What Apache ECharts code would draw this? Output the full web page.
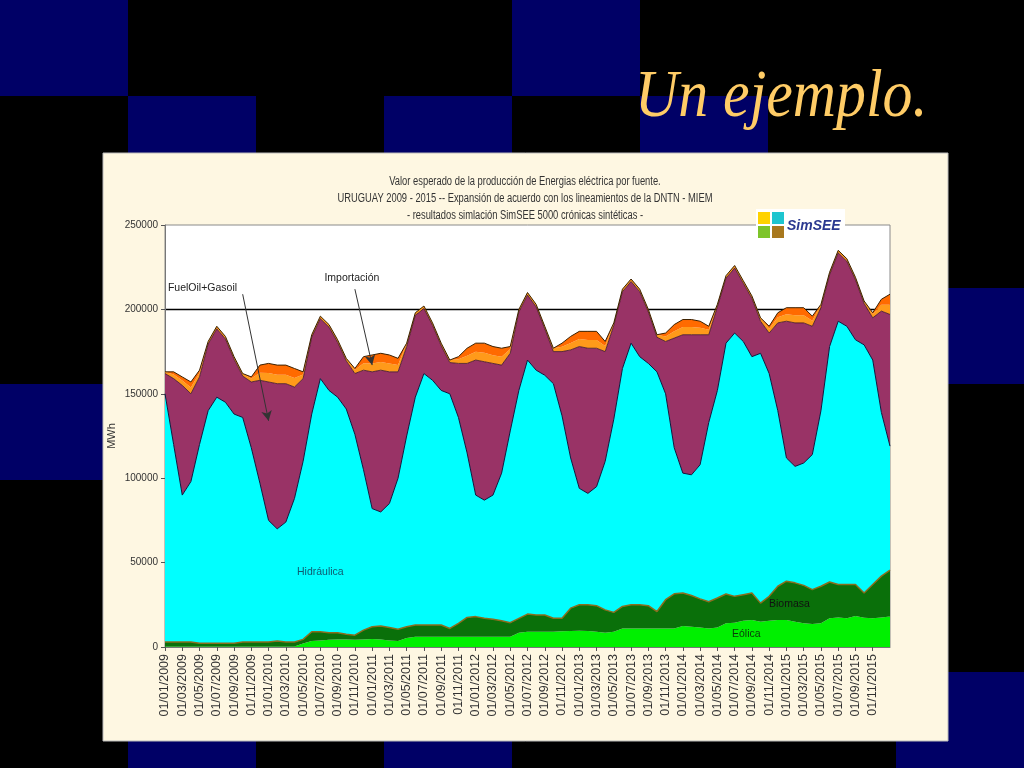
<!DOCTYPE html>
<html>
<head>
<meta charset="utf-8">
<script src="https://cdn.jsdelivr.net/npm/echarts@6/dist/echarts.min.js"></script>
<style>
html,body{margin:0;padding:0;background:#000;}
#chart{width:1024px;height:768px;}
</style>
</head>
<body>
<div id="chart"></div>
<script>
// Monthly categories 01/01/2009 ... 01/01/2016
const categories = [
 '01/01/2009','01/02/2009','01/03/2009','01/04/2009','01/05/2009','01/06/2009','01/07/2009','01/08/2009','01/09/2009','01/10/2009','01/11/2009','01/12/2009',
 '01/01/2010','01/02/2010','01/03/2010','01/04/2010','01/05/2010','01/06/2010','01/07/2010','01/08/2010','01/09/2010','01/10/2010','01/11/2010','01/12/2010',
 '01/01/2011','01/02/2011','01/03/2011','01/04/2011','01/05/2011','01/06/2011','01/07/2011','01/08/2011','01/09/2011','01/10/2011','01/11/2011','01/12/2011',
 '01/01/2012','01/02/2012','01/03/2012','01/04/2012','01/05/2012','01/06/2012','01/07/2012','01/08/2012','01/09/2012','01/10/2012','01/11/2012','01/12/2012',
 '01/01/2013','01/02/2013','01/03/2013','01/04/2013','01/05/2013','01/06/2013','01/07/2013','01/08/2013','01/09/2013','01/10/2013','01/11/2013','01/12/2013',
 '01/01/2014','01/02/2014','01/03/2014','01/04/2014','01/05/2014','01/06/2014','01/07/2014','01/08/2014','01/09/2014','01/10/2014','01/11/2014','01/12/2014',
 '01/01/2015','01/02/2015','01/03/2015','01/04/2015','01/05/2015','01/06/2015','01/07/2015','01/08/2015','01/09/2015','01/10/2015','01/11/2015','01/12/2015',
 '01/01/2016'
];

// MWh per month (stacked, bottom to top)
const eolica = [
 300,300,300,300,300,300,300,300,300,300,300,300,
 300,300,300,300,2000,3500,3800,4300,4500,4500,4300,4500,
 4700,4500,3800,3500,5300,6000,6100,6100,6000,6000,6000,6000,
 6000,6000,6000,6000,6000,8500,9000,9000,9000,9000,9300,9500,
 9700,9500,9000,8500,9000,11000,11000,11000,11000,11000,11000,11000,
 12400,12000,11500,11000,11500,14000,14400,15500,16000,15000,15500,16000,
 16000,15000,14000,13600,14000,17000,17500,17000,18400,17400,17000,17500,
 18000
];
const biomasa = [
 2700,2700,2700,2700,1900,1900,1900,1900,1900,2700,2700,2700,
 2700,3200,2700,2700,2500,5500,5200,4200,4000,3000,2700,5500,
 7300,7900,7700,7000,6700,7000,6900,6900,7000,5000,8000,11500,
 12000,11000,10500,9500,8400,8500,10500,10000,10000,8000,7700,13500,
 15300,15500,15500,13500,11500,13000,14000,14000,13500,10000,17000,20500,
 19600,18500,17000,15800,17500,17400,15600,15500,16000,11000,14500,20000,
 23000,23000,22500,20400,22000,21500,19500,20000,18600,14600,20000,24500,
 27600
];
const hidraulica = [
 147000,117000,87000,95000,117800,137800,145800,142800,135800,133000,115000,94000,
 72000,66500,71000,85000,105500,129000,150000,143500,139500,133500,119000,95000,
 70000,67600,73500,89500,113000,135000,149000,145000,139000,139000,122000,97500,
 72000,70000,73500,87500,113600,135000,150500,145000,142000,139000,120000,89000,
 69000,66000,70500,88000,114500,141000,155000,147000,143500,142000,122000,86500,
 71000,71500,79500,106200,123000,148600,156000,150000,140000,148000,132000,104000,
 73000,69000,72500,80000,104000,139500,156000,153000,145000,147000,133000,97000,
 73400
];
const fuelGasoil = [
 12000,39000,65000,52000,40000,39500,40500,37500,32500,24500,39000,61000,
 82000,86000,82000,66000,49000,45500,35500,37500,32500,28500,36000,59000,
 81000,84000,78000,63000,53000,48500,38500,32500,26500,18500,32000,53000,
 80000,82000,78000,64000,46000,46500,38500,37500,27500,19000,38000,64000,
 84000,86000,82000,65000,55500,45500,36500,38500,30500,20500,31000,65000,
 82000,83000,77000,52000,49500,38500,38500,34500,34500,19000,24000,52000,
 81000,85000,83000,76000,61000,42500,40500,38500,35500,24500,25000,60000,
 78000
];
const otrosTermicos = [
 1000,2500,2900,3700,2500,1500,1500,1500,1500,1500,2100,4500,
 5300,5300,5300,5300,2500,1500,1500,1500,1500,1500,2100,4100,
 4900,4900,4900,4100,2000,1500,1500,1500,1500,1500,2500,4500,
 4900,5300,4900,4900,2500,1500,1500,1500,1500,2000,2900,4100,
 4500,4900,4900,3300,1500,1500,1500,1500,1500,1500,2900,4100,
 4500,4500,4100,2900,1500,1500,1500,1500,1500,2000,2500,3300,
 4100,4500,4500,3300,2000,1500,1500,1500,1500,1500,2100,3700,
 5700
];
const importacion = [
 0,1500,2100,3300,1500,0,0,0,0,0,900,4500,
 5700,5700,5700,5700,1500,0,0,0,0,0,900,3900,
 5100,5100,5100,3900,0,0,0,0,0,0,1500,4500,
 5100,5700,5100,5100,1500,0,0,0,0,0,2100,3900,
 4500,5100,5100,2700,0,0,0,0,0,0,2100,3900,
 4500,4500,3900,2100,0,0,0,0,0,0,1500,2700,
 3900,4500,4500,2700,0,0,0,0,0,0,900,3300,
 6300
];

const chartTitle = [
 'Valor esperado de la producción de Energias eléctrica por fuente.',
 'URUGUAY 2009 - 2015 -- Expansión de acuerdo con los lineamientos de la DNTN - MIEM',
 '- resultados simlación SimSEE 5000 crónicas sintéticas -'
];

const sans = "'Liberation Sans',Arial,sans-serif";

// background checker squares (decoration)
const blueCells = [[0,0],[4,0],[1,1],[3,1],[5,1],[7,3],[0,4],[1,7],[3,7],[7,7]];
const bg = blueCells.map(c => ({
  type:'rect', z:-20, silent:true,
  shape:{x:c[0]*128, y:c[1]*96, width:128, height:96},
  style:{fill:'#000066'}
}));

const showIdx = (i) => i % 2 === 0 && i < 84;

const chart = echarts.init(document.getElementById('chart'));
const option = {
  backgroundColor:'#000',
  animation:false,
  graphic:[
    ...bg,
    {type:'rect', z:-10, silent:true, shape:{x:103,y:153,width:845,height:588},
     style:{fill:'#FEF7E2', stroke:'#bbb', lineWidth:1}},
    {type:'text', z:50, x:635, y:98, scaleX:0.88, originX:0, originY:0,
     style:{text:'Un ejemplo.', font:"italic 68px 'Liberation Serif','Times New Roman',serif",
            fill:'#FFCC66', verticalAlign:'middle', align:'left'}},
    ...chartTitle.map((t,i)=>({type:'text', z:50, x:525, y:182+i*17, scaleX:0.78, originX:0, originY:0,
      style:{text:t, font:'12px '+sans, fill:'#333', align:'center', verticalAlign:'middle'}})),
    {type:'rect', z:60, shape:{x:756,y:209,width:89,height:30}, style:{fill:'#fff'}},
    {type:'rect', z:61, shape:{x:758,y:212,width:12,height:12}, style:{fill:'#FFD200'}},
    {type:'rect', z:61, shape:{x:772,y:212,width:12,height:12}, style:{fill:'#1EC5CF'}},
    {type:'rect', z:61, shape:{x:758,y:226,width:12,height:12}, style:{fill:'#7DC42A'}},
    {type:'rect', z:61, shape:{x:772,y:226,width:12,height:12}, style:{fill:'#A8781E'}},
    {type:'text', z:61, x:787, y:226, style:{text:'SimSEE', font:"italic bold 14px "+sans, fill:'#2B3990', verticalAlign:'middle'}}
  ],
  grid:{left:165, top:225, width:725, height:422, show:true, backgroundColor:'#fff', borderColor:'#8a8a8a', borderWidth:1},
  xAxis:{
    type:'category', data:categories, boundaryGap:false,
    axisLine:{lineStyle:{color:'#777'}},
    axisTick:{show:true, length:4, interval:showIdx, lineStyle:{color:'#555'}},
    axisLabel:{interval:showIdx, rotate:90, margin:7, fontSize:12.5, fontFamily:sans, color:'#333'},
    splitLine:{show:false}
  },
  yAxis:{
    type:'value', min:0, max:250000, interval:50000,
    name:'MWh', nameLocation:'middle', nameGap:48, nameRotate:90, nameMoveOverlap:false,
    nameTextStyle:{fontSize:11, fontFamily:sans, color:'#333'},
    axisLine:{show:true, lineStyle:{color:'#777'}},
    axisTick:{show:true, length:4, lineStyle:{color:'#555'}},
    axisLabel:{fontSize:10, fontFamily:sans, color:'#333', margin:7, formatter:(v)=>String(v)},
    splitLine:{show:true, lineStyle:{width:1.3, color:['rgba(0,0,0,0)','rgba(0,0,0,0)','rgba(0,0,0,0)','rgba(0,0,0,0)','#000','rgba(0,0,0,0)']}}
  },
  series:[
    {name:'Eólica', type:'line', stack:'t', data:eolica, symbol:'none',
     lineStyle:{width:0}, areaStyle:{color:'#00F000', opacity:1}, itemStyle:{color:'#00F000'}},
    {name:'Biomasa', type:'line', stack:'t', data:biomasa, symbol:'none',
     lineStyle:{width:1.5, color:'#8a6d1e'}, areaStyle:{color:'#0a700a', opacity:1}, itemStyle:{color:'#0a700a'}},
    {name:'Hidráulica', type:'line', stack:'t', data:hidraulica, symbol:'none',
     lineStyle:{width:1, color:'#0a1a40'}, areaStyle:{color:'#00FFFF', opacity:1}, itemStyle:{color:'#00FFFF'}},
    {name:'FuelOil+Gasoil', type:'line', stack:'t', data:fuelGasoil, symbol:'none',
     lineStyle:{width:0.8, color:'#3a1028'}, areaStyle:{color:'#993366', opacity:1}, itemStyle:{color:'#993366'}},
    {name:'Otros', type:'line', stack:'t', data:otrosTermicos, symbol:'none',
     lineStyle:{width:0}, areaStyle:{color:'#FF9A1A', opacity:1}, itemStyle:{color:'#FF9A1A'}},
    {name:'Importación', type:'line', stack:'t', data:importacion, symbol:'none',
     lineStyle:{width:1, color:'#3a2000'}, areaStyle:{color:'#FF6A00', opacity:1}, itemStyle:{color:'#FF6A00'}},
    {name:'anot', type:'line', data:[], symbol:'none', silent:true,
     markLine:{silent:true, symbol:['none','arrow'], symbolSize:[8,10], label:{show:false},
       lineStyle:{color:'#333', width:1, type:'solid'},
       data:[
         [{coord:[9,209000]},{coord:[12,134000]}],
         [{coord:[22,212000]},{coord:[24,167000]}]
       ]},
     markPoint:{silent:true, symbol:'circle', symbolSize:0,
       label:{show:true, position:'inside', fontFamily:sans, fontSize:10.5, color:'#222'},
       data:[
         {coord:[4,212700], label:{formatter:'FuelOil+Gasoil', offset:[3,0]}},
         {coord:[22,218600], label:{formatter:'Importación', offset:[-3,0]}},
         {coord:[18,44400], label:{formatter:'Hidráulica', color:'#105a70'}},
         {coord:[72,25500], label:{formatter:'Biomasa', offset:[3,0], color:'#111'}},
         {coord:[67,7700], label:{formatter:'Eólica', offset:[3,0], color:'#0a3a0a'}}
       ]}
    }
  ]
};
chart.setOption(option);
</script>
</body>
</html>
